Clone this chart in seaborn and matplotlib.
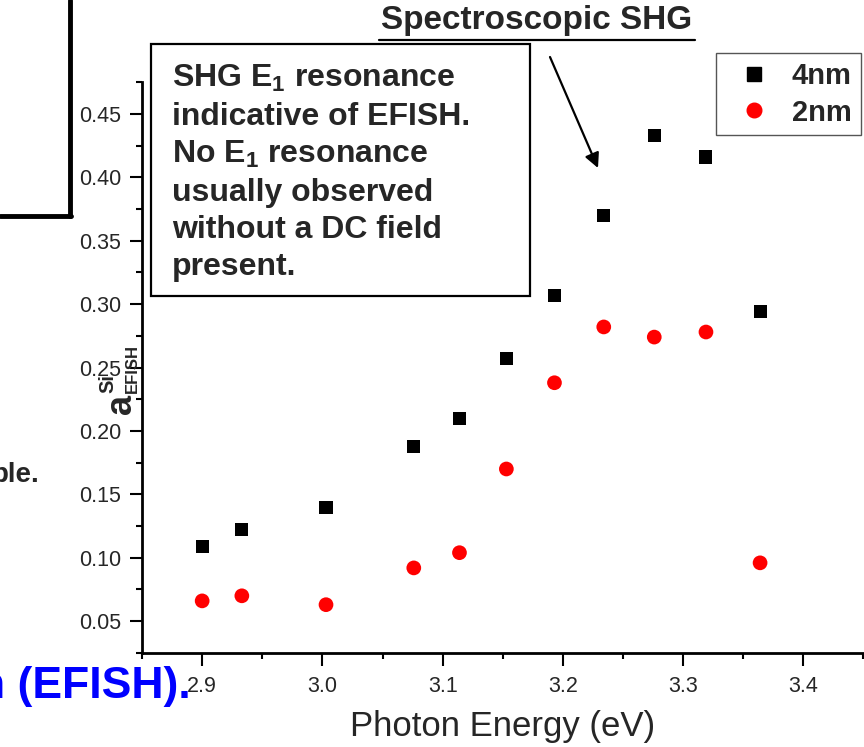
import numpy as np
import pandas as pd
import seaborn as sns
import matplotlib.pyplot as plt
from matplotlib.lines import Line2D
from matplotlib.patches import Rectangle
from matplotlib.ticker import MultipleLocator, FormatStrFormatter

# photon energies (eV) shared by both samples
energy = [2.900, 2.933, 3.003, 3.076, 3.114, 3.153, 3.193, 3.234, 3.276, 3.319, 3.364]
# a_EFISH^Si for the two oxide thicknesses
efish_4nm = [0.109, 0.122, 0.140, 0.188, 0.210, 0.257, 0.307, 0.370, 0.433, 0.416, 0.294]
efish_2nm = [0.066, 0.070, 0.063, 0.092, 0.104, 0.170, 0.238, 0.282, 0.274, 0.278, 0.096]
samples = ['4nm', '2nm']

xticks = [2.9, 3.0, 3.1, 3.2, 3.3, 3.4]
yticks = [0.05, 0.10, 0.15, 0.20, 0.25, 0.30, 0.35, 0.40, 0.45]

df = pd.DataFrame({
    'energy': energy + energy,
    'efish': efish_4nm + efish_2nm,
    'sample': [samples[0]] * len(energy) + [samples[1]] * len(energy),
})

sns.set_style('ticks')
plt.rcParams['font.family'] = ['Liberation Sans', 'DejaVu Sans']
plt.rcParams['mathtext.fontset'] = 'custom'
plt.rcParams['mathtext.rm'] = 'Liberation Sans'
plt.rcParams['mathtext.bf'] = 'Liberation Sans:bold'

fig = plt.figure(figsize=(8.64, 7.47), dpi=100)
ax = fig.add_axes([0.1644, 0.126, 0.835, 0.764])

sns.scatterplot(data=df, x='energy', y='efish', hue='sample', style='sample',
                size='sample', ax=ax,
                palette={'4nm': 'black', '2nm': 'red'},
                markers={'4nm': 's', '2nm': 'o'},
                sizes={'4nm': 88, '2nm': 112},
                linewidth=0, legend=False, zorder=3)

ax.set_xlim(2.85, 3.45)
ax.set_ylim(0.025, 0.475)
ax.set_xticks(xticks)
ax.set_yticks(yticks)
ax.xaxis.set_minor_locator(MultipleLocator(0.05))
ax.yaxis.set_minor_locator(MultipleLocator(0.025))
ax.xaxis.set_major_formatter(FormatStrFormatter('%.1f'))
ax.yaxis.set_major_formatter(FormatStrFormatter('%.2f'))
ax.tick_params(which='major', direction='out', length=9, width=1.5, color='black')
ax.tick_params(which='minor', direction='out', length=4.5, width=1.5, color='black')
ax.tick_params(axis='y', labelsize=15.5, pad=6)
ax.tick_params(axis='x', labelsize=15.5, pad=8)
sns.despine(ax=ax)
for side in ['left', 'bottom']:
    ax.spines[side].set_linewidth(2)
    ax.spines[side].set_color('black')

ax.set_xlabel('Photon Energy (eV)', fontsize=25, labelpad=9)
ax.set_ylabel('')

# y label a^Si_EFISH built from three rotated pieces (big a, small indices)
def px(x, y):
    return x / 864, 1 - y / 747

for s, (xp, yp), size in [('a', (131, 414), 26), ('Si', (113, 393), 14.5),
                          ('EFISH', (137, 393), 12)]:
    fig.text(*px(xp, yp), s, rotation=90, rotation_mode='anchor', ha='left',
             va='baseline', fontsize=size, fontweight='bold')

handles = [Line2D([], [], marker='s', color='black', linestyle='none', markersize=9.4),
           Line2D([], [], marker='o', color='red', linestyle='none', markersize=10.5)]
leg = ax.legend(handles, samples, loc='upper right', bbox_to_anchor=(0.996, 1.051),
                borderaxespad=0, frameon=True, fancybox=False, framealpha=1,
                edgecolor='#555555', prop={'weight': 'bold', 'size': 21},
                handletextpad=0.3, labelspacing=0.3, borderpad=0.3)
leg.get_frame().set_linewidth(1)
leg.set_zorder(5)

# slide decorations around the chart
fig.add_artist(Line2D([70 / 864, 70 / 864], [1, 1 - 216 / 747], color='black', lw=3.5))
fig.add_artist(Line2D([0, 71 / 864], [1 - 216 / 747, 1 - 216 / 747], color='black', lw=3.5))
fig.text(*px(39, 482), 'ble.', ha='right', va='baseline',
         fontsize=20, fontweight='bold')
fig.text(*px(191, 698), 'n (EFISH).', ha='right', va='baseline',
         fontsize=32, fontweight='bold', color='#0000ff')

fig.text(*px(537, 21), 'Spectroscopic SHG', ha='center', va='center',
         fontsize=24, fontweight='bold')
fig.add_artist(Line2D([379 / 864, 695 / 864], [1 - 40 / 747, 1 - 40 / 747],
                      color='black', lw=1.6))

fig.add_artist(Rectangle(px(151, 296), (530 - 151) / 864, (296 - 44) / 747,
                         transform=fig.transFigure, facecolor='white',
                         edgecolor='black', lw=1.6, zorder=6))
box_text = ('SHG E$_\\mathbf{1}$ resonance\n'
            'indicative of EFISH.\n'
            'No E$_\\mathbf{1}$ resonance\n'
            'usually observed\n'
            'without a DC field\n'
            'present.')
fig.text(*px(172, 63), box_text, ha='left', va='top', fontsize=23,
         fontweight='bold', linespacing=1.31, zorder=7)

fig.add_artist(plt.Annotation('', xy=px(598, 168), xytext=px(550, 57),
                              xycoords='figure fraction', textcoords='figure fraction',
                              arrowprops=dict(arrowstyle='-|>', color='black', lw=1.6,
                                              mutation_scale=22, shrinkA=0, shrinkB=0)))

fig.savefig('out.png', dpi=100)
